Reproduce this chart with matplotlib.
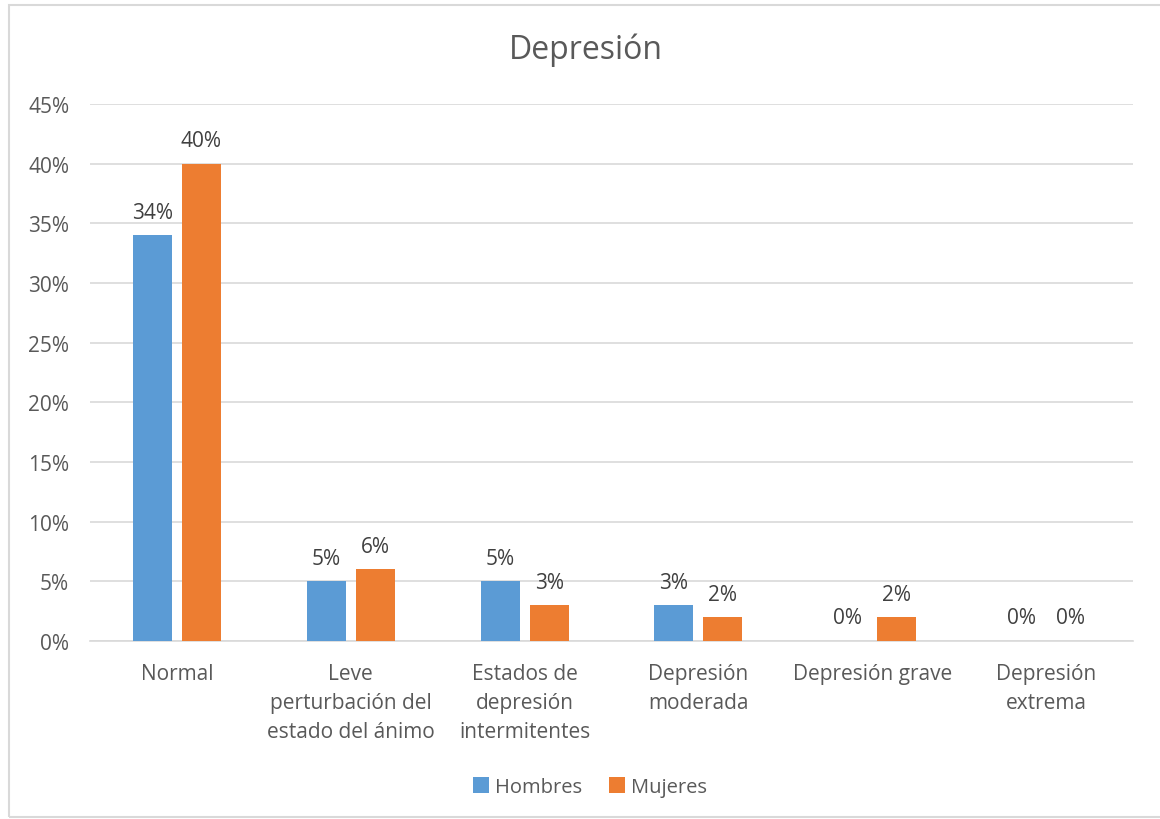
import matplotlib
matplotlib.use("Agg")
import matplotlib.pyplot as plt
from matplotlib.patches import Rectangle
import numpy as np

categories = ["Normal", "Leve\nperturbación del\nestado del ánimo", "Estados de\ndepresión\nintermitentes",
              "Depresión\nmoderada", "Depresión grave", "Depresión\nextrema"]
hombres = [34, 5, 5, 3, 0, 0]
mujeres = [40, 6, 3, 2, 2, 0]
series_names = ["Hombres", "Mujeres"]
title = "Depresión"

plt.rcParams['font.family'] = ['Open Sans', 'DejaVu Sans']
txt = "#595959"

fig = plt.figure(figsize=(11.6, 8.2), dpi=100)
fig.patches.append(Rectangle((9/1160, 2/820), 1.0, 812/820, transform=fig.transFigure,
                             fill=False, edgecolor="#D9D9D9", linewidth=1.5))
ax = fig.add_axes([90/1160, 1 - 642/820, 1043/1160, 537/820])

x = np.arange(len(categories))
w = 0.224
off = 0.141
b1 = ax.bar(x - off, hombres, w, color="#5B9BD5", label=series_names[0], zorder=3)
b2 = ax.bar(x + off, mujeres, w, color="#ED7D31", label=series_names[1], zorder=3)
for bars, vals in ((b1, hombres), (b2, mujeres)):
    for r, v in zip(bars, vals):
        ax.annotate(f"{v}%", (r.get_x() + r.get_width() / 2, v), xytext=(0, 9),
                    textcoords="offset points", ha="center", va="bottom", fontsize=15, color="#404040")

ax.set_xlim(-0.5, len(categories) - 0.5)
ax.set_ylim(0, 45)
ax.set_yticks(np.arange(0, 46, 5))
ax.set_yticklabels([f"{v}%" for v in range(0, 46, 5)])
ax.set_xticks(x)
ax.set_xticklabels(categories, linespacing=1.5)
ax.tick_params(axis="both", length=0, labelsize=15, colors=txt)
ax.tick_params(axis="y", pad=15)
ax.tick_params(axis="x", pad=16)
ax.grid(axis="y", color="#D9D9D9", linewidth=1.2, zorder=0)
for s in ["top", "right", "left"]:
    ax.spines[s].set_visible(False)
ax.spines["bottom"].set_color("#D9D9D9")
ax.spines["bottom"].set_linewidth(1.2)

fig.text(586/1160, 1 - 50/820, title, ha="center", va="center", fontsize=23, color=txt)
fig.legend(handles=[b1, b2], loc="center", bbox_to_anchor=(590/1160, 1 - 788/820), ncol=2,
           frameon=False, fontsize=14.5, handlelength=0.8, handleheight=0.8, handletextpad=0.3,
           columnspacing=1.3, labelcolor=txt)

fig.savefig("out.png", dpi=100)
